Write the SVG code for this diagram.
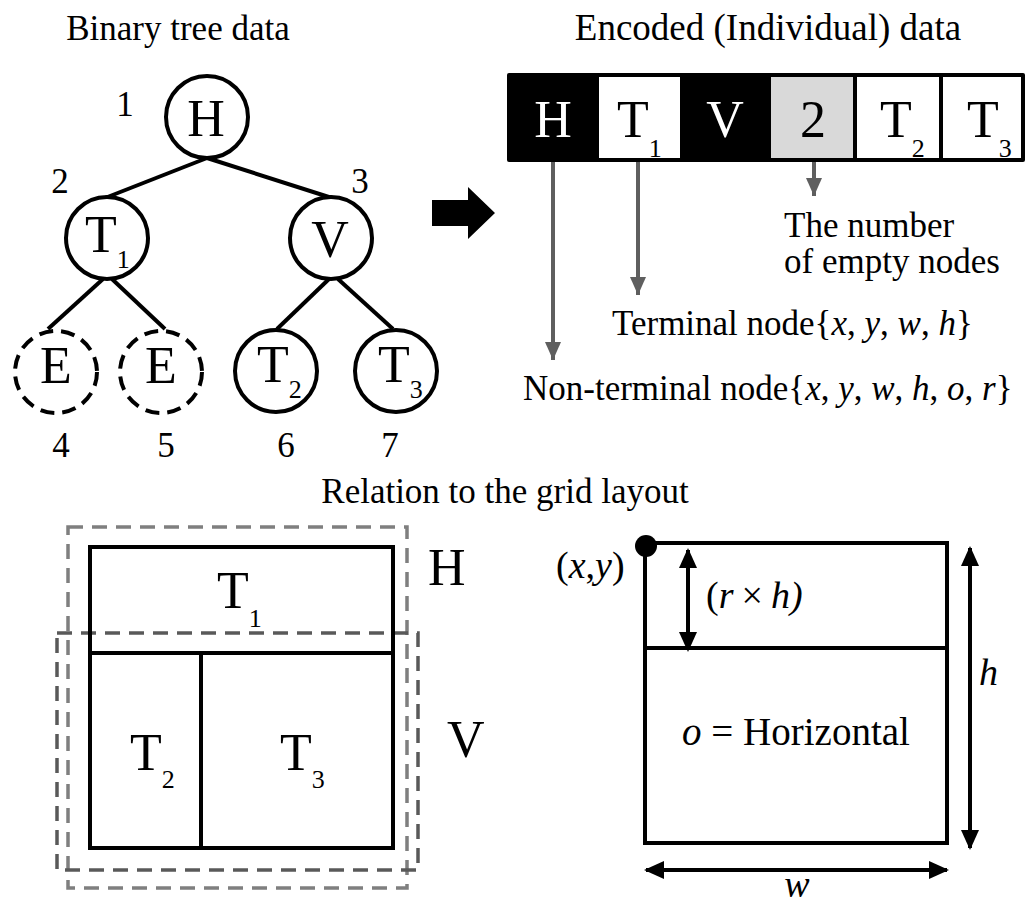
<svg xmlns="http://www.w3.org/2000/svg" width="1027" height="903" viewBox="0 0 1027 903">
<style>
text { font-family: "Liberation Serif", "Times New Roman", serif; fill: #000; }
.lbl { font-size: 35px; }
.num { font-size: 35px; text-anchor: middle; }
.big { font-size: 52px; }
.mid { text-anchor: middle; }
.it { font-style: italic; }
.wt { fill: #fff; }
.edge { stroke: #000; stroke-width: 4; fill: none; }
.node { fill: #fff; stroke: #000; stroke-width: 4; }
.empty { stroke-dasharray: 14 8; }
.ptr { stroke: #5f5f5f; stroke-width: 4; fill: none; marker-end: url(#ga); }
.dim { stroke: #000; stroke-width: 4; fill: none; marker-start: url(#ba); marker-end: url(#ba); }
.box { fill: none; stroke: #000; stroke-width: 4; }
.dashH { fill: none; stroke: #7f7f7f; stroke-width: 3.5; stroke-dasharray: 15 9; }
.dashV { fill: none; stroke: #595959; stroke-width: 3.5; stroke-dasharray: 15 9; }
.geo { font-size: 38px; }
</style>
<defs>
<marker id="ga" viewBox="0 0 18 16" refX="18" refY="8" markerWidth="18" markerHeight="16" markerUnits="userSpaceOnUse" orient="auto">
<path d="M0,0 L18,8 L0,16 z" fill="#5f5f5f"/>
</marker>
<marker id="ba" viewBox="0 0 20 18" refX="18" refY="9" markerWidth="20" markerHeight="18" markerUnits="userSpaceOnUse" orient="auto-start-reverse">
<path d="M0,0 L20,9 L0,18 z" fill="#000"/>
</marker>
</defs>

<g id="titles">
<text class="lbl mid" x="178" y="40">Binary tree data</text>
<text class="mid" style="font-size:37px" x="768" y="40">Encoded (Individual) data</text>
<text class="lbl mid" x="505" y="503">Relation to the grid layout</text>
</g>

<g id="tree-edges">
<line class="edge" x1="207" y1="158" x2="105" y2="198"/>
<line class="edge" x1="207" y1="158" x2="332" y2="198"/>
<line class="edge" x1="103" y1="279" x2="48" y2="329"/>
<line class="edge" x1="112" y1="279" x2="165" y2="329"/>
<line class="edge" x1="329" y1="279" x2="277" y2="329"/>
<line class="edge" x1="338" y1="279" x2="393" y2="329"/>
</g>

<g id="node-H">
<circle class="node" cx="207" cy="117" r="41"/>
<text class="big mid" x="206" y="136">H</text>
<text class="num" x="125" y="116">1</text>
</g>
<g id="node-T1">
<circle class="node" cx="107" cy="238" r="41"/>
<text class="big" x="85" y="252">T<tspan font-size="26" dy="16">1</tspan></text>
<text class="num" x="60" y="193">2</text>
</g>
<g id="node-V">
<circle class="node" cx="331" cy="238" r="41"/>
<text class="big mid" x="330" y="257">V</text>
<text class="num" x="360" y="193">3</text>
</g>
<g id="node-E4">
<circle class="node empty" cx="56" cy="372" r="41"/>
<text class="big mid" x="56" y="383">E</text>
<text class="num" x="61" y="457">4</text>
</g>
<g id="node-E5">
<circle class="node empty" cx="161" cy="372" r="41"/>
<text class="big mid" x="161" y="383">E</text>
<text class="num" x="166" y="457">5</text>
</g>
<g id="node-T2">
<circle class="node" cx="276" cy="371" r="41"/>
<text class="big" x="257" y="382">T<tspan font-size="26" dy="16">2</tspan></text>
<text class="num" x="286" y="457">6</text>
</g>
<g id="node-T3">
<circle class="node" cx="396" cy="371" r="41"/>
<text class="big" x="378" y="382">T<tspan font-size="26" dy="16">3</tspan></text>
<text class="num" x="390" y="457">7</text>
</g>

<g id="big-arrow">
<polygon points="432,200 468,200 468,187 495,213 468,239 468,226 432,226" fill="#000"/>
</g>

<g id="array">
<rect x="507" y="73" width="518" height="89" rx="2" fill="#000"/>
<rect x="599" y="77" width="81" height="81" fill="#fff"/>
<rect x="771" y="77" width="82" height="81" fill="#d9d9d9"/>
<rect x="857" y="77" width="82" height="81" fill="#fff"/>
<rect x="943" y="77" width="78" height="81" fill="#fff"/>
<text class="big mid wt" x="553" y="137">H</text>
<text class="big" x="617" y="137">T<tspan font-size="26" dy="20">1</tspan></text>
<text class="big mid wt" x="725" y="137">V</text>
<text class="big mid" x="813" y="137">2</text>
<text class="big" x="880" y="137">T<tspan font-size="26" dy="20">2</tspan></text>
<text class="big" x="967" y="137">T<tspan font-size="26" dy="20">3</tspan></text>
</g>

<g id="connectors">
<line class="ptr" x1="553" y1="162" x2="553" y2="360"/>
<line class="ptr" x1="638" y1="162" x2="638" y2="295"/>
<line class="ptr" x1="814" y1="162" x2="814" y2="196"/>
</g>

<g id="annotations">
<text class="lbl" x="784" y="237">The number</text>
<text class="lbl" x="784" y="273">of empty nodes</text>
<text class="lbl" x="612" y="335">Terminal node{<tspan class="it">x</tspan>, <tspan class="it">y</tspan>, <tspan class="it">w</tspan>, <tspan class="it">h</tspan>}</text>
<text class="lbl" x="523" y="400">Non-terminal node{<tspan class="it">x</tspan>, <tspan class="it">y</tspan>, <tspan class="it">w</tspan>, <tspan class="it">h</tspan>, <tspan class="it">o</tspan>, <tspan class="it">r</tspan>}</text>
</g>

<g id="grid-layout">
<rect class="dashH" x="68" y="527" width="339" height="361"/>
<rect class="dashV" x="57" y="633" width="361" height="237"/>
<rect class="box" x="90" y="547" width="303" height="301"/>
<line class="edge" x1="90" y1="653" x2="393" y2="653"/>
<line class="edge" x1="201" y1="653" x2="201" y2="848"/>
<text class="big" x="217" y="608">T<tspan font-size="26" dy="19">1</tspan></text>
<text class="big" x="130" y="770">T<tspan font-size="26" dy="18">2</tspan></text>
<text class="big" x="280" y="770">T<tspan font-size="26" dy="18">3</tspan></text>
<text class="big" x="428" y="585">H</text>
<text class="big" x="447" y="757">V</text>
</g>

<g id="node-geometry">
<rect class="box" x="645" y="543" width="302" height="300"/>
<line class="edge" x1="645" y1="648" x2="947" y2="648"/>
<circle cx="646" cy="546" r="11" fill="#000"/>
<text class="geo" x="556" y="578">(<tspan class="it">x</tspan>,<tspan class="it">y</tspan>)</text>
<line class="dim" x1="688" y1="550" x2="688" y2="650"/>
<text class="geo" x="706" y="608">(<tspan class="it">r</tspan><tspan dx="8">×</tspan><tspan class="it" dx="8">h)</tspan></text>
<text class="geo mid" x="796" y="745" style="font-size:39px"><tspan class="it">o</tspan> = Horizontal</text>
<line class="dim" x1="970" y1="548" x2="970" y2="848"/>
<text class="geo it" x="979" y="685">h</text>
<line class="dim" x1="646" y1="870" x2="947" y2="870"/>
<text class="geo it mid" x="797" y="897">w</text>
</g>
</svg>
